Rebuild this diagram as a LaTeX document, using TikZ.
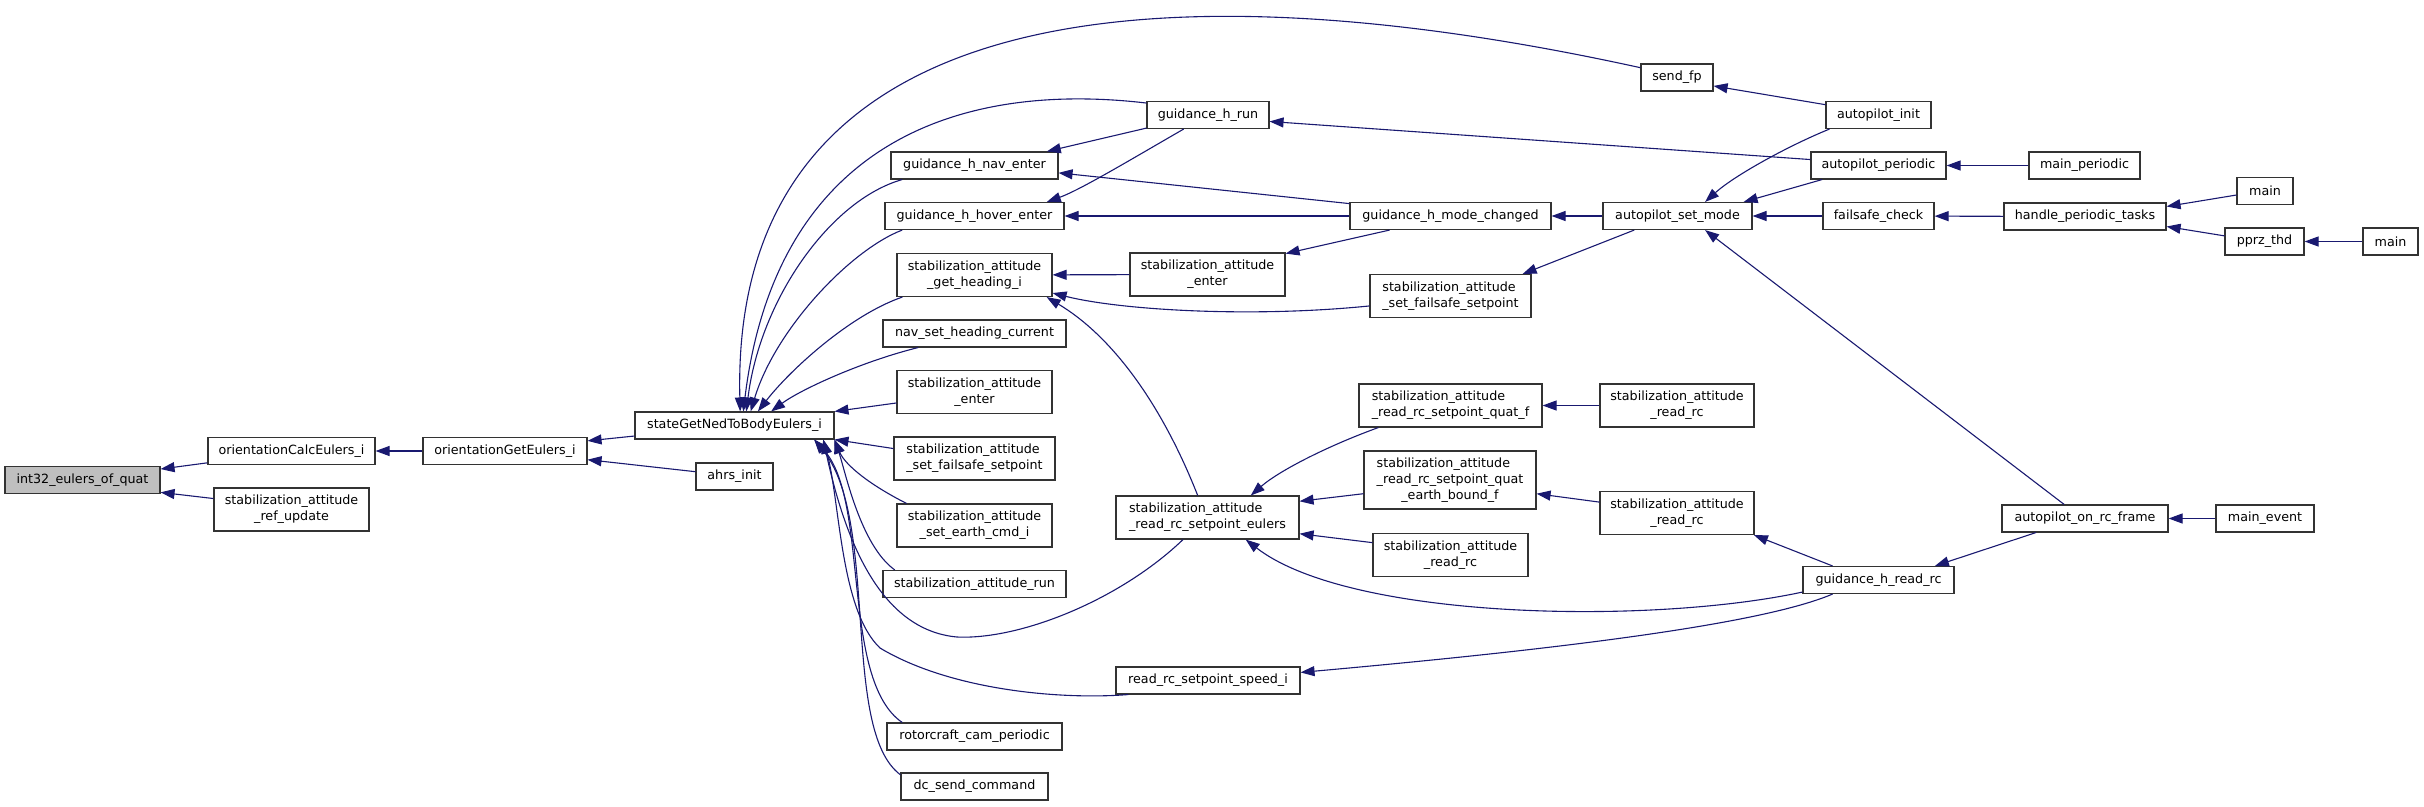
\documentclass[tikz,border=0pt]{standalone}
\usepackage{fontspec}
\setmainfont{DejaVu Sans}
\usetikzlibrary{arrows.meta}
\definecolor{midnight}{RGB}{25,25,112}

\begin{document}
\begin{tikzpicture}[x=1pt, y=-1pt,
    func/.style={rectangle, draw=black!80, line width=1.1pt, fill=white, inner sep=0pt, minimum height=27pt, align=center, font=\fontsize{12.7}{16}\selectfont},
    func2/.style={func, minimum height=43pt},
    rootfunc/.style={func, fill=black!25},
    call/.style={-{Triangle[length=14pt,width=10pt]}, midnight, line width=1.1pt}
  ]
  \useasboundingbox (0,0) rectangle (2424,806);

  % callee and its first callers
  \node[rootfunc, minimum width=155pt] (quat) at (82.5,480) {int32\_eulers\_of\_quat};
  \node[func, minimum width=167pt] (calc) at (291.5,451) {orientationCalcEulers\_i};
  \node[func2, minimum width=155pt] (refupd) at (291.5,509.5) {stabilization\_attitude\\\_ref\_update};
  \node[func, minimum width=164pt] (oget) at (505,451) {orientationGetEulers\_i};
  \node[func, minimum width=199pt] (ned) at (734.5,425.5) {stateGetNedToBodyEulers\_i};
  \node[func, minimum width=77pt] (ahrs) at (734.5,476.5) {ahrs\_init};

  % callers of stateGetNedToBodyEulers_i
  \node[func, minimum width=167pt] (naventer) at (974.5,165.5) {guidance\_h\_nav\_enter};
  \node[func, minimum width=179pt] (hoverenter) at (974.5,216) {guidance\_h\_hover\_enter};
  \node[func2, minimum width=155pt] (heading) at (974.5,275) {stabilization\_attitude\\\_get\_heading\_i};
  \node[func, minimum width=183pt] (navheading) at (974.5,333.5) {nav\_set\_heading\_current};
  \node[func2, minimum width=155pt] (enterA) at (974.5,392) {stabilization\_attitude\\\_enter};
  \node[func2, align=left, minimum width=161pt] (failsafeA) at (974.5,458.5) {stabilization\_attitude\\\_set\_failsafe\_setpoint};
  \node[func2, minimum width=155pt] (earthcmd) at (974.5,525.5) {stabilization\_attitude\\\_set\_earth\_cmd\_i};
  \node[func, minimum width=183pt] (attrun) at (974.5,584) {stabilization\_attitude\_run};
  \node[func, minimum width=175pt] (campcam) at (974.5,736.5) {rotorcraft\_cam\_periodic};
  \node[func, minimum width=147pt] (dcsend) at (974.5,786.5) {dc\_send\_command};

  \node[func, minimum width=122pt] (hrun) at (1208,115) {guidance\_h\_run};
  \node[func2, minimum width=155pt] (enterB) at (1207.5,274.5) {stabilization\_attitude\\\_enter};
  \node[func2, align=left, minimum width=183pt] (eulers) at (1207.5,517.5) {stabilization\_attitude\\\_read\_rc\_setpoint\_eulers};
  \node[func, minimum width=184pt] (speed) at (1208,680.5) {read\_rc\_setpoint\_speed\_i};

  \node[func, minimum width=201pt] (modechg) at (1450.5,216) {guidance\_h\_mode\_changed};
  \node[func2, align=left, minimum width=161pt] (failsafeB) at (1450.5,296) {stabilization\_attitude\\\_set\_failsafe\_setpoint};
  \node[func2, align=left, minimum width=183pt] (quatf) at (1450.5,405.5) {stabilization\_attitude\\\_read\_rc\_setpoint\_quat\_f};
  \node[func, minimum height=58pt, minimum width=172pt] (earthb) at (1450,480) {\begin{tabular}{@{}l@{}}stabilization\_attitude\\\_read\_rc\_setpoint\_quat\\\multicolumn{1}{@{}c@{}}{\_earth\_bound\_f}\end{tabular}};
  \node[func2, minimum width=155pt] (readrcC) at (1450.5,555) {stabilization\_attitude\\\_read\_rc};

  \node[func, minimum width=72pt] (sendfp) at (1677,77.5) {send\_fp};
  \node[func, minimum width=149pt] (setmode) at (1677.5,216) {autopilot\_set\_mode};
  \node[func2, minimum width=154pt] (readrcA) at (1677,405.5) {stabilization\_attitude\\\_read\_rc};
  \node[func2, minimum width=154pt] (readrcB) at (1677,513) {stabilization\_attitude\\\_read\_rc};

  \node[func, minimum width=105pt] (apinit) at (1878.5,115) {autopilot\_init};
  \node[func, minimum width=135pt] (apperiodic) at (1878.5,165.5) {autopilot\_periodic};
  \node[func, minimum width=111pt] (fscheck) at (1878.5,216) {failsafe\_check};
  \node[func, minimum width=151pt] (hreadrc) at (1878.5,580) {guidance\_h\_read\_rc};

  \node[func, minimum width=111pt] (mainper) at (2084.5,165.5) {main\_periodic};
  \node[func, minimum width=162pt] (handle) at (2085,216.5) {handle\_periodic\_tasks};
  \node[func, minimum width=166pt] (onrc) at (2085,518.5) {autopilot\_on\_rc\_frame};

  \node[func, minimum width=56pt] (mainA) at (2265,191) {main};
  \node[func, minimum width=79pt] (pprz) at (2264.5,241.5) {pprz\_thd};
  \node[func, minimum width=55pt] (mainB) at (2390.5,241.5) {main};
  \node[func, minimum width=98pt] (mainev) at (2265,518.5) {main\_event};

  % calls, arrow at the callee
  \draw[call] (calc.188) -- (quat.8);
  \draw[call] (refupd.172) -- (quat.351);
  \draw[call] (oget) -- (calc);
  \draw[call] (ned.186) -- (oget.7);
  \draw[call] (ahrs.173) -- (oget.354);

  \draw[call] (sendfp.165) .. controls (1150,-40) and (730,0) .. (ned.68);
  \draw[call] (hrun.169) .. controls (950,80) and (775,150) .. (ned.58);
  \draw[call] (naventer.191) .. controls (830,200) and (760,300) .. (ned.50);
  \draw[call] (hoverenter.191) .. controls (850,250) and (775,330) .. (ned.41);
  \draw[call] (heading.197) .. controls (850,315) and (790,370) .. (ned.31);
  \draw[call] (navheading.194) .. controls (860,362) and (800,390) .. (ned.21);
  \draw[call] (enterA.188) -- (ned.8);
  \draw[call] (failsafeA.173) -- (ned.352);
  \draw[call] (earthcmd.162) .. controls (870,485) and (845,465) .. (ned.-8);
  \draw[call] (attrun.170) .. controls (860,545) and (845,470) .. (ned.-8.5);
  \draw[call] (eulers.222) .. controls (1120,600) and (1020,640) .. (957,637) .. controls (880,630) and (845,540) .. (ned.-9);
  \draw[call] (speed.190) .. controls (1060,700) and (950,690) .. (880,648) .. controls (840,610) and (840,500) .. (ned.-9.5);
  \draw[call] (campcam.169) .. controls (840,680) and (870,500) .. (ned.-10);
  \draw[call] (dcsend.171) .. controls (840,730) and (880,520) .. (ned.-10.5);

  \draw[call] (enterB) -- (heading);
  \draw[call] (failsafeB.187) .. controls (1250,318) and (1120,310) .. (heading.-13);
  \draw[call] (eulers.114) .. controls (1160,400) and (1110,335) .. (heading.-17);

  \draw[call] (hrun.192) -- (naventer.11);
  \draw[call] (hrun.210) .. controls (1130,160) and (1080,190) .. (hoverenter.11);
  \draw[call] (modechg.173) -- (naventer.-5);
  \draw[call] (modechg) -- (hoverenter);
  \draw[call] (modechg.193) -- (enterB.15);

  \draw[call] (setmode) -- (modechg);
  \draw[call] (setmode.198) -- (failsafeB.17);
  \draw[call] (apperiodic.175) -- (hrun.354);
  \draw[call] (apinit.169) -- (sendfp.347);
  \draw[call] (apinit.196) .. controls (1790,145) and (1735,175) .. (setmode.27);
  \draw[call] (apperiodic.194) -- (setmode.12);
  \draw[call] (fscheck) -- (setmode);
  \draw[call] (onrc.146) -- (setmode.333);

  \draw[call] (mainper) -- (apperiodic);
  \draw[call] (handle) -- (fscheck);
  \draw[call] (mainA.188) -- (handle.7);
  \draw[call] (pprz.172) -- (handle.-7);
  \draw[call] (mainB) -- (pprz);
  \draw[call] (mainev) -- (onrc);

  \draw[call] (onrc.196) -- (hreadrc.14);
  \draw[call] (hreadrc.163) -- (readrcB.-16);
  \draw[call] (hreadrc.189) .. controls (1650,625) and (1350,620) .. (eulers.-30);
  \draw[call] (hreadrc.197) .. controls (1760,625) and (1550,650) .. (speed.5);

  \draw[call] (readrcA) -- (quatf);
  \draw[call] (readrcB.172) -- (earthb.-9);
  \draw[call] (quatf.197) .. controls (1330,445) and (1280,470) .. (eulers.27);
  \draw[call] (earthb.189) -- (eulers.10);
  \draw[call] (readrcC.171) -- (eulers.-10);
\end{tikzpicture}
\end{document}
